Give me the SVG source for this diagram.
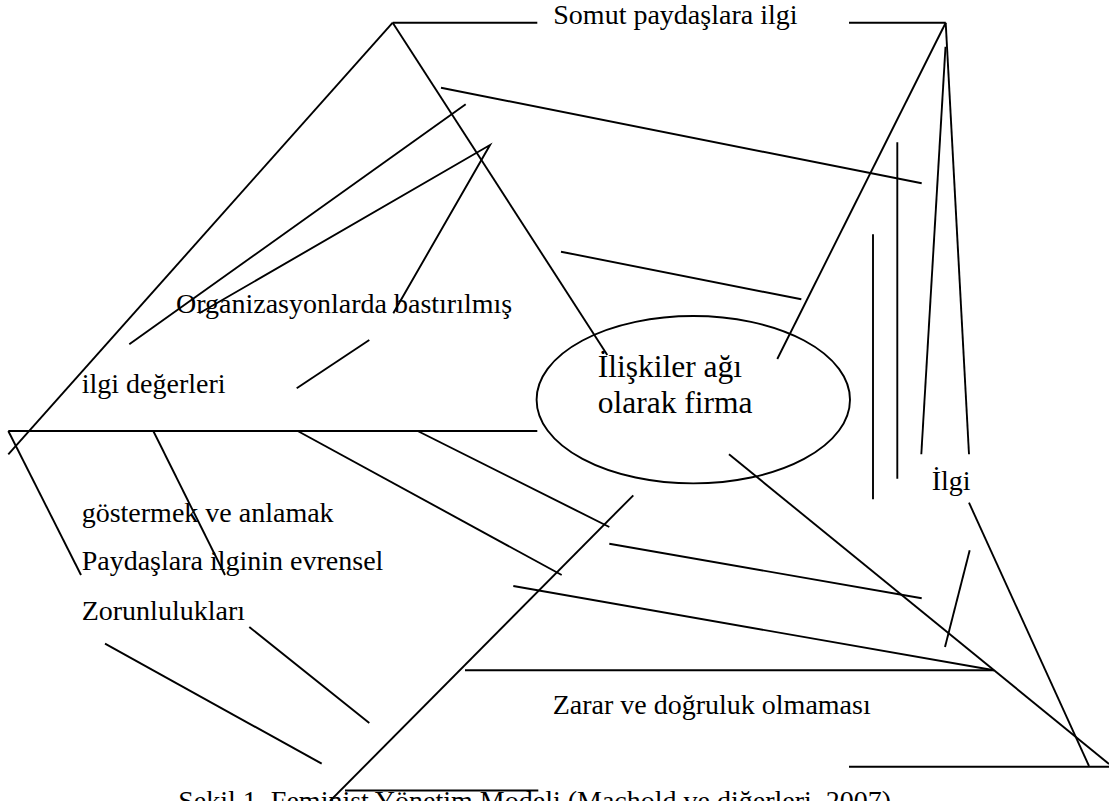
<svg xmlns="http://www.w3.org/2000/svg" width="1109" height="801" viewBox="0 0 1109 801">
<style>
  .ln{stroke:#000;stroke-width:1.9;fill:none;stroke-linecap:butt}
  .t{font-family:"Liberation Serif","Times New Roman",serif;font-size:28px;fill:#000}
  .tb{font-family:"Liberation Serif","Times New Roman",serif;font-size:31.5px;fill:#000}
</style>
<rect width="1109" height="801" fill="#fff"/>
<g id="connectors">
  <line class="ln" x1="392.7" y1="22.7" x2="537.3" y2="22.7"/>
  <line class="ln" x1="392.7" y1="22.7" x2="8.3" y2="454.3"/>
  <line class="ln" x1="392.7" y1="22.7" x2="607.3" y2="355"/>
  <line class="ln" x1="465.7" y1="104.3" x2="129.3" y2="344.3"/>
  <polyline class="ln" points="199.3,313.3 490,145 393.3,313.3"/>
  <line class="ln" x1="369.3" y1="340" x2="296.7" y2="388.3"/>
  <line class="ln" x1="441" y1="87.7" x2="921.7" y2="183.3"/>
  <line class="ln" x1="561" y1="251.7" x2="801.3" y2="299.3"/>
  <line class="ln" x1="849" y1="22.7" x2="945.7" y2="22.7"/>
  <line class="ln" x1="945.7" y1="22.7" x2="777.3" y2="359"/>
  <line class="ln" x1="897.3" y1="142.3" x2="897.3" y2="478.7"/>
  <line class="ln" x1="873" y1="234.3" x2="873" y2="499.3"/>
  <line class="ln" x1="945.5" y1="46.7" x2="921.3" y2="454.3"/>
  <line class="ln" x1="945.7" y1="22.7" x2="969" y2="454.3"/>
  <line class="ln" x1="8.3" y1="431" x2="537.3" y2="431"/>
  <line class="ln" x1="8.3" y1="431" x2="81" y2="575"/>
  <line class="ln" x1="153.3" y1="431" x2="225" y2="575"/>
  <line class="ln" x1="297.7" y1="431" x2="561.7" y2="575"/>
  <line class="ln" x1="417.7" y1="431" x2="609.3" y2="527"/>
  <line class="ln" x1="633.3" y1="495.3" x2="330" y2="801"/>
  <line class="ln" x1="609.3" y1="543.7" x2="921.7" y2="598.3"/>
  <line class="ln" x1="513.3" y1="586" x2="994" y2="670.3"/>
  <line class="ln" x1="465" y1="670.3" x2="994" y2="670.3"/>
  <line class="ln" x1="729" y1="454.3" x2="1109" y2="764"/>
  <line class="ln" x1="969" y1="502.7" x2="1089" y2="766"/>
  <line class="ln" x1="969.7" y1="550.3" x2="945" y2="647"/>
  <line class="ln" x1="849" y1="766.7" x2="1109" y2="766.7"/>
  <line class="ln" x1="249.3" y1="627" x2="369.3" y2="723"/>
  <line class="ln" x1="105" y1="643.7" x2="321.7" y2="763.7"/>
  <line class="ln" x1="345" y1="790.5" x2="538.3" y2="790.5"/>
</g>
<g id="node-firma">
  <ellipse class="ln" cx="693.3" cy="399.7" rx="156.7" ry="83.7"/>
  <text class="tb" x="597.7" y="376.7">İlişkiler ağı</text>
  <text class="tb" x="597.7" y="413.3">olarak firma</text>
</g>
<g id="node-somut">
  <text class="t" x="553.3" y="24">Somut paydaşlara ilgi</text>
</g>
<g id="node-bastirilmis">
  <text class="t" x="176" y="313.3">Organizasyonlarda bastırılmış</text>
  <text class="t" x="81.7" y="393.3">ilgi değerleri</text>
</g>
<g id="node-ilgi">
  <text class="t" x="931.7" y="490">İlgi</text>
</g>
<g id="node-evrensel">
  <text class="t" x="81.7" y="521.5">göstermek ve anlamak</text>
  <text class="t" x="81.7" y="569.5">Paydaşlara ilginin evrensel</text>
  <text class="t" x="81.7" y="619.5">Zorunlulukları</text>
</g>
<g id="node-zarar">
  <text class="t" x="552.7" y="714.3">Zarar ve doğruluk olmaması</text>
</g>
<g id="caption">
  <text class="t" x="178.3" y="810">Şekil 1. Feminist Yönetim Modeli (Machold ve diğerleri, 2007)</text>
</g>
</svg>
